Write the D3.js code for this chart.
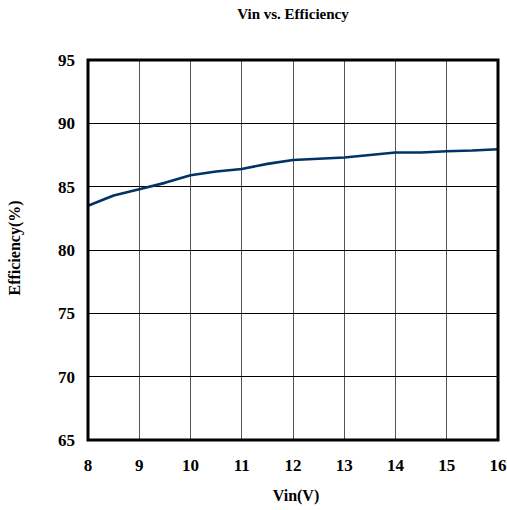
<!DOCTYPE html>
<html><head><meta charset="utf-8">
<script src="https://cdn.jsdelivr.net/npm/d3@7"></script>
<style>body{margin:0;background:#fff}</style>
</head><body>
<svg id="c" width="507" height="510"></svg>
<script>
const vin = [8, 8.5, 9, 9.5, 10, 10.5, 11, 11.5, 12, 12.5, 13, 13.5, 14, 14.5, 15, 15.5, 16];
const efficiency = [83.5, 84.3, 84.8, 85.3, 85.9, 86.2, 86.4, 86.8, 87.1, 87.2, 87.3, 87.5, 87.7, 87.7, 87.8, 87.85, 87.95];
const xTicks = [8, 9, 10, 11, 12, 13, 14, 15, 16];
const yTicks = [65, 70, 75, 80, 85, 90, 95];

const svg = d3.select('#c');
const L = 88, R = 498, T = 60, B = 440;
const x = d3.scaleLinear().domain([8, 16]).range([L, R]);
const y = d3.scaleLinear().domain([65, 95]).range([B, T]);
const font = '"Liberation Serif", "Times New Roman", serif';

// grid
svg.append('g').selectAll('line').data(xTicks.slice(1, -1)).join('line')
  .attr('x1', d => x(d)).attr('x2', d => x(d)).attr('y1', T).attr('y2', B)
  .attr('stroke', '#555').attr('stroke-width', 1).attr('shape-rendering', 'crispEdges');
svg.append('g').selectAll('line').data(yTicks.slice(1, -1)).join('line')
  .attr('x1', L).attr('x2', R).attr('y1', d => y(d)).attr('y2', d => y(d))
  .attr('stroke', '#000').attr('stroke-width', 1).attr('shape-rendering', 'crispEdges');

// line
svg.append('path').datum(vin.map((v, i) => [v, efficiency[i]]))
  .attr('d', d3.line().x(d => x(d[0])).y(d => y(d[1])))
  .attr('fill', 'none').attr('stroke', '#003366').attr('stroke-width', 2.6)
  .attr('stroke-linejoin', 'round');

// border
svg.append('rect').attr('x', L).attr('y', T).attr('width', R - L).attr('height', B - T)
  .attr('fill', 'none').attr('stroke', '#000').attr('stroke-width', 3);

// tick labels
svg.append('g').selectAll('text').data(yTicks).join('text')
  .attr('x', 75).attr('y', d => y(d)).attr('dy', '0.35em').attr('text-anchor', 'end')
  .attr('font-family', font).attr('font-weight', 'bold').attr('font-size', 17)
  .text(d => d);
svg.append('g').selectAll('text').data(xTicks).join('text')
  .attr('x', d => x(d)).attr('y', 471).attr('text-anchor', 'middle')
  .attr('font-family', font).attr('font-weight', 'bold').attr('font-size', 17)
  .text(d => d);

// titles
svg.append('text').attr('x', 293).attr('y', 19).attr('text-anchor', 'middle')
  .attr('font-family', font).attr('font-weight', 'bold').attr('font-size', 15)
  .text('Vin vs. Efficiency');
svg.append('text').attr('x', 296).attr('y', 501).attr('text-anchor', 'middle')
  .attr('font-family', font).attr('font-weight', 'bold').attr('font-size', 16)
  .text('Vin(V)');
svg.append('text').attr('transform', 'translate(20,248) rotate(-90)').attr('text-anchor', 'middle')
  .attr('font-family', font).attr('font-weight', 'bold').attr('font-size', 16)
  .text('Efficiency(%)');
</script>
</body></html>
